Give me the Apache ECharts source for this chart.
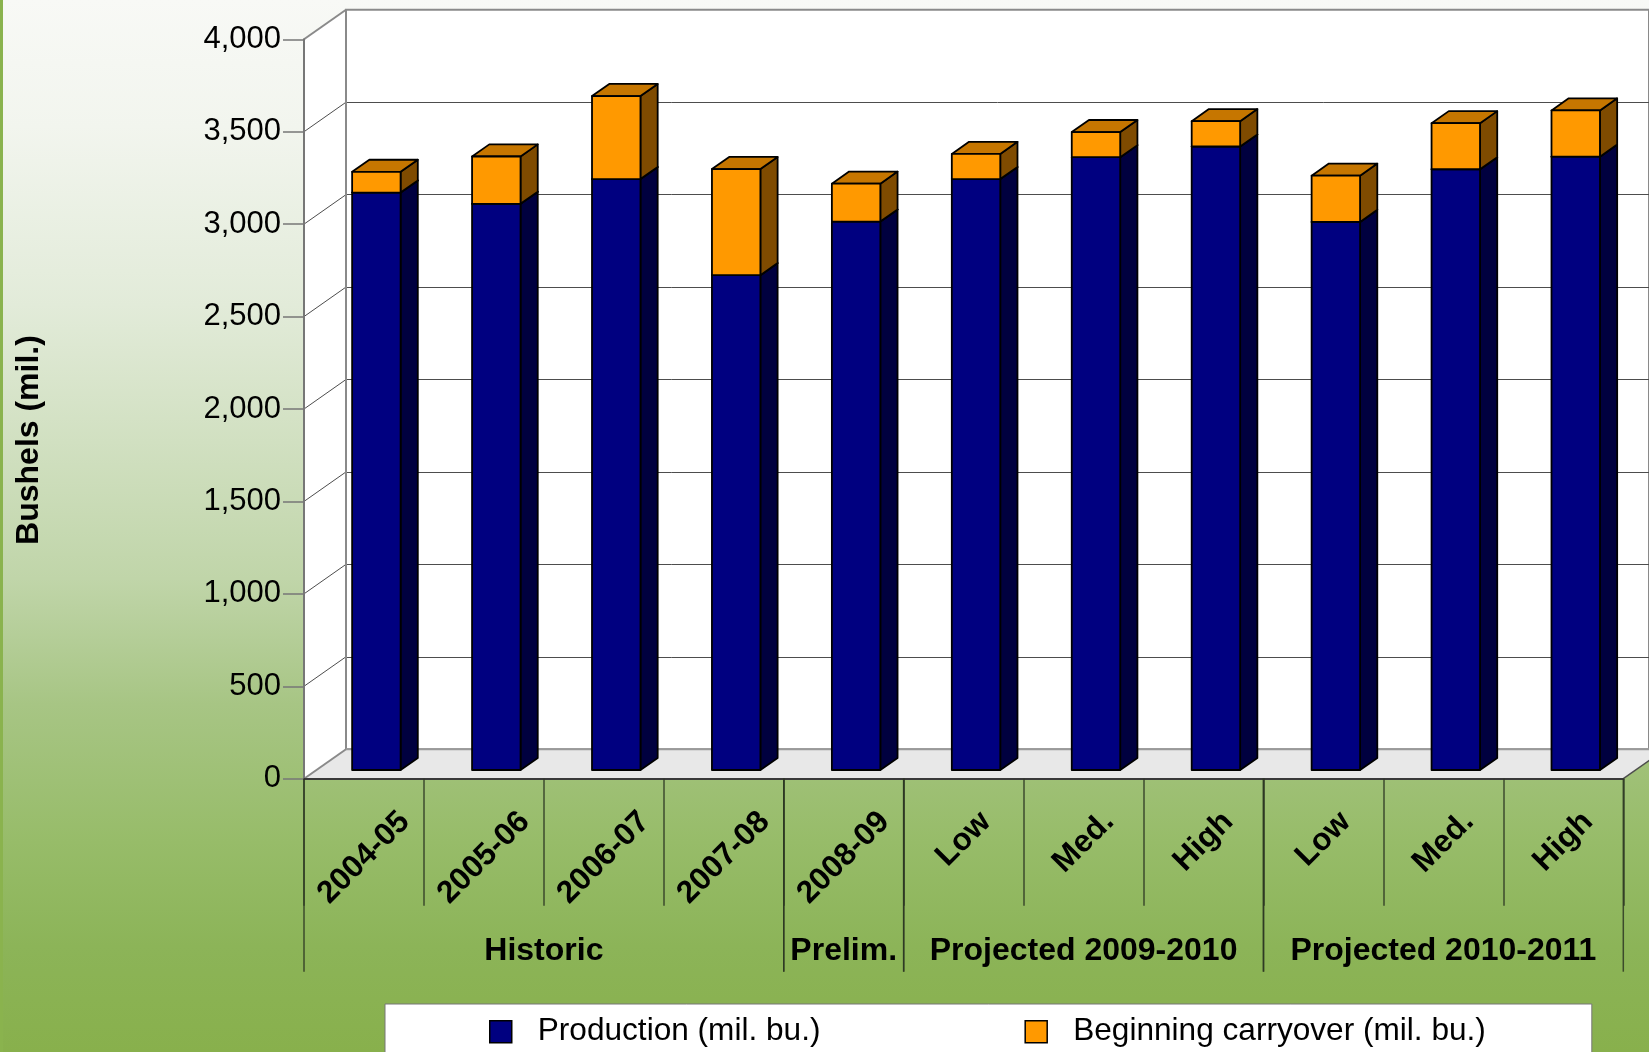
<!DOCTYPE html>
<html><head><meta charset="utf-8">
<script src="https://cdn.jsdelivr.net/npm/echarts@6.0.0/dist/echarts.min.js"></script>
<style>html,body{margin:0;padding:0;overflow:hidden;background:#fff}#c{width:1649px;height:1052px}</style>
</head><body><div id="c"></div><script>
// ---- data ----
const categories = ['2004-05','2005-06','2006-07','2007-08','2008-09','Low','Med.','High','Low','Med.','High'];
const production = [3124, 3063, 3197, 2677, 2967, 3197, 3315, 3373, 2965, 3250, 3318];
const carryover  = [112, 256, 449, 574, 205, 136, 136, 137, 250, 249, 250];
const groupNames = ['Historic','Prelim.','Projected 2009-2010','Projected 2010-2011'];
const groupStart = [0, 4, 5, 8];
const groupEnd   = [3, 4, 7, 10];
const yTicks = [0, 500, 1000, 1500, 2000, 2500, 3000, 3500, 4000];
const seriesNames = ['Production (mil. bu.)', 'Beginning carryover (mil. bu.)'];
const yTitle = 'Bushels (mil.)';

// ---- style ----
const FONT = '"Liberation Sans", Arial, Helvetica, sans-serif';
const DEPTH = [42, -29.5];           // wall depth offset (px)
const BAR_FRONT = 0.295, BAR_DEPTH = 0.41, BAR_WIDTH = 0.404;
const GRID = {left: 304, top: 39.3, width: 1319.3, height: 739.4};
const BLUE = {front: '#000080', side: '#00003f', top: '#000066'};
const ORANGE = {front: '#ff9900', side: '#7f4b00', top: '#c67600'};
const CAT_FS = 31.5, LABEL_TOP = 29.3;
const sepColor = 'rgba(45,55,35,0.85)';

const measureCtx = document.createElement('canvas').getContext('2d');
measureCtx.font = 'bold ' + CAT_FS + 'px "Liberation Sans"';

function renderFrame(params, api) {
  const band = api.size([1, 0])[0];
  const xl = api.coord([0, 0])[0] - band / 2;
  const xr = api.coord([categories.length - 1, 0])[0] + band / 2;
  const y0 = api.coord([0, yTicks[0]])[1];
  const yTop = api.coord([0, yTicks[yTicks.length - 1]])[1];
  const dx = DEPTH[0], dy = DEPTH[1];
  const ch = [];
  ch.push({type: 'polygon', shape: {points: [[xl, yTop], [xl + dx, yTop + dy], [xl + dx, y0 + dy], [xl, y0]]}, style: {fill: '#fff'}});
  yTicks.slice(1, -1).forEach(v => {
    const y = api.coord([0, v])[1];
    ch.push({type: 'line', shape: {x1: xl, y1: y, x2: xl + dx, y2: y + dy}, style: {stroke: '#4d4d4d', lineWidth: 1}});
  });
  ch.push({type: 'polygon', shape: {points: [[xl, y0], [xr, y0], [xr + dx, y0 + dy], [xl + dx, y0 + dy]]}, style: {fill: '#e8e8e8'}});
  const gray = {stroke: '#8a8a8a', lineWidth: 2};
  ch.push({type: 'line', shape: {x1: xl, y1: yTop, x2: xl + dx, y2: yTop + dy}, style: gray});
  ch.push({type: 'line', shape: {x1: xl, y1: y0, x2: xl + dx, y2: y0 + dy}, style: gray});
  ch.push({type: 'line', shape: {x1: xl + dx, y1: yTop + dy, x2: xl + dx, y2: y0 + dy}, style: gray});
  ch.push({type: 'line', shape: {x1: xl + dx, y1: y0 + dy, x2: xr + dx + 40, y2: y0 + dy}, style: {stroke: '#9a9a9a', lineWidth: 2}});
  ch.push({type: 'line', shape: {x1: xr, y1: y0, x2: xr + dx, y2: y0 + dy}, style: {stroke: '#4d4d4d', lineWidth: 1.5}});
  return {type: 'group', children: ch};
}

function renderBox(params, api, col) {
  const i = api.value(0), lo = api.value(1), hi = api.value(2);
  const band = api.size([1, 0])[0];
  const w = band * BAR_WIDTH;
  const pLo = api.coord([i, lo]), pHi = api.coord([i, hi]);
  const ox = DEPTH[0] * BAR_FRONT, oy = DEPTH[1] * BAR_FRONT;
  const dx = DEPTH[0] * BAR_DEPTH, dy = DEPTH[1] * BAR_DEPTH;
  const x0 = pLo[0] - w / 2 + ox, x1 = x0 + w;
  const yb = pLo[1] + oy, yt = pHi[1] + oy;
  const line = {stroke: '#000', lineWidth: 1.8, lineJoin: 'round'};
  return {type: 'group', children: [
    {type: 'polygon', shape: {points: [[x1, yb], [x1 + dx, yb + dy], [x1 + dx, yt + dy], [x1, yt]]}, style: Object.assign({fill: col.side}, line)},
    {type: 'polygon', shape: {points: [[x0, yt], [x1, yt], [x1 + dx, yt + dy], [x0 + dx, yt + dy]]}, style: Object.assign({fill: col.top}, line)},
    {type: 'rect', shape: {x: x0, y: yt, width: w, height: yb - yt}, style: Object.assign({fill: col.front}, line)}
  ]};
}

function renderCatLabel(params, api) {
  const i = api.value(0);
  const p = api.coord([i, 0]);
  const txt = categories[i];
  const w = measureCtx.measureText(txt).width;
  const h = 0.7071 * (w + 0.8 * CAT_FS);
  return {type: 'text', x: p[0], y: p[1] + LABEL_TOP + h / 2, rotation: Math.PI / 4,
    style: {text: txt, fontSize: CAT_FS, fontWeight: 'bold', fontFamily: FONT, fill: '#000', align: 'center', verticalAlign: 'middle'}};
}

function renderGroup(params, api) {
  const k = params.dataIndex;
  const band = api.size([1, 0])[0];
  const left = api.coord([api.value(0), 0])[0] - band / 2;
  const right = api.coord([api.value(1), 0])[0] + band / 2;
  const y0 = api.coord([0, 0])[1];
  const ln = {stroke: sepColor, lineWidth: 1.5};
  return {type: 'group', children: [
    {type: 'line', shape: {x1: left, y1: y0, x2: left, y2: y0 + 193}, style: ln},
    {type: 'line', shape: {x1: right, y1: y0, x2: right, y2: y0 + 193}, style: ln},
    {type: 'text', x: (left + right) / 2, y: y0 + 172.5,
      style: {text: groupNames[k], fontSize: 32, fontWeight: 'bold', fontFamily: FONT, fill: '#000', align: 'center', verticalAlign: 'middle'}}
  ]};
}

const chart = echarts.init(document.getElementById('c'), null, {renderer: 'canvas'});
const backGrid = {left: GRID.left + DEPTH[0], top: GRID.top + DEPTH[1], width: GRID.width, height: GRID.height};

chart.setOption({
  animation: false,
  backgroundColor: {type: 'linear', x: 0, y: 0, x2: 0, y2: 1, colorStops: [
    {offset: 0, color: '#f8f9f6'},
    {offset: 0.12, color: '#f2f5ee'},
    {offset: 0.29, color: '#e2ebd9'},
    {offset: 0.55, color: '#c0d5a9'},
    {offset: 0.67, color: '#a7c584'},
    {offset: 0.8, color: '#97bc69'},
    {offset: 0.9, color: '#8cb458'},
    {offset: 1, color: '#88b04c'}]},
  textStyle: {fontFamily: FONT},
  grid: [
    Object.assign({show: false, z: 0}, GRID),
    Object.assign({show: true, z: 0, backgroundColor: '#fff', borderColor: '#8a8a8a', borderWidth: 2}, backGrid)
  ],
  xAxis: [
    {type: 'category', gridIndex: 0, data: categories, z: 5,
      axisLine: {show: true, lineStyle: {color: '#3a3a3a', width: 2}},
      axisTick: {show: true, interval: 0, length: 127, lineStyle: {color: sepColor, width: 1.5}},
      axisLabel: {show: false}, splitLine: {show: false}},
    {type: 'category', gridIndex: 1, data: categories, show: false}
  ],
  yAxis: [
    {type: 'value', gridIndex: 0, min: yTicks[0], max: yTicks[yTicks.length - 1], interval: yTicks[1] - yTicks[0], z: 5,
      axisLine: {show: true, lineStyle: {color: '#777', width: 2}},
      axisTick: {show: true, length: 21, lineStyle: {color: '#777', width: 1.5}},
      axisLabel: {margin: 23, fontSize: 31, color: '#000', fontFamily: FONT, formatter: v => v.toLocaleString('en-US')},
      splitLine: {show: false}},
    {type: 'value', gridIndex: 1, min: yTicks[0], max: yTicks[yTicks.length - 1], interval: yTicks[1] - yTicks[0], z: 0,
      axisLine: {show: false}, axisTick: {show: false}, axisLabel: {show: false},
      splitLine: {show: true, lineStyle: {width: 1, color: yTicks.map((v, k) => (k === 0 || k === yTicks.length - 1) ? 'rgba(0,0,0,0)' : '#4d4d4d')}}}
  ],
  legend: {
    left: 385, top: 1004, padding: [9.7, 106, 40, 104], itemGap: 204, itemWidth: 22, itemHeight: 22, icon: 'rect',
    backgroundColor: '#fff', borderColor: '#777', borderWidth: 1, borderRadius: 0,
    textStyle: {fontSize: 31.6, color: '#000', fontFamily: FONT, padding: [0, 0, 0, 21], lineHeight: 36},
    data: [
      {name: seriesNames[0], itemStyle: {color: BLUE.front, borderColor: '#000', borderWidth: 1.5}},
      {name: seriesNames[1], itemStyle: {color: ORANGE.front, borderColor: '#000', borderWidth: 1.5}}
    ]
  },
  graphic: [
    {type: 'line', shape: {x1: 1.5, y1: 0, x2: 1.5, y2: 1052}, style: {stroke: '#8ab34e', lineWidth: 3}, z: 100},
    {type: 'text', x: 29, y: 440, rotation: Math.PI / 2,
      style: {text: yTitle, fontSize: 32, fontWeight: 'bold', fontFamily: FONT, fill: '#000', align: 'center', verticalAlign: 'middle'}, z: 100}
  ],
  series: [
    {type: 'custom', name: 'frame', xAxisIndex: 0, yAxisIndex: 0, z: 1, silent: true, clip: false,
      data: [[0, 0]], encode: {x: 0, y: 1}, renderItem: renderFrame},
    {type: 'custom', name: seriesNames[0], xAxisIndex: 0, yAxisIndex: 0, z: 3, clip: false,
      itemStyle: {color: BLUE.front},
      data: production.map((v, i) => [i, 0, v]), encode: {x: 0, y: [1, 2]},
      renderItem: (p, api) => renderBox(p, api, BLUE)},
    {type: 'custom', name: seriesNames[1], xAxisIndex: 0, yAxisIndex: 0, z: 4, clip: false,
      itemStyle: {color: ORANGE.front},
      data: carryover.map((v, i) => [i, production[i], production[i] + v]), encode: {x: 0, y: [1, 2]},
      renderItem: (p, api) => renderBox(p, api, ORANGE)},
    {type: 'custom', name: 'catLabels', xAxisIndex: 0, yAxisIndex: 0, z: 6, silent: true, clip: false,
      data: categories.map((c, i) => [i, 0]), encode: {x: 0, y: 1}, renderItem: renderCatLabel},
    {type: 'custom', name: 'groups', xAxisIndex: 0, yAxisIndex: 0, z: 6, silent: true, clip: false,
      data: groupStart.map((s, k) => [s, groupEnd[k]]), encode: {x: [0, 1]}, renderItem: renderGroup}
  ]
});
</script></body></html>
